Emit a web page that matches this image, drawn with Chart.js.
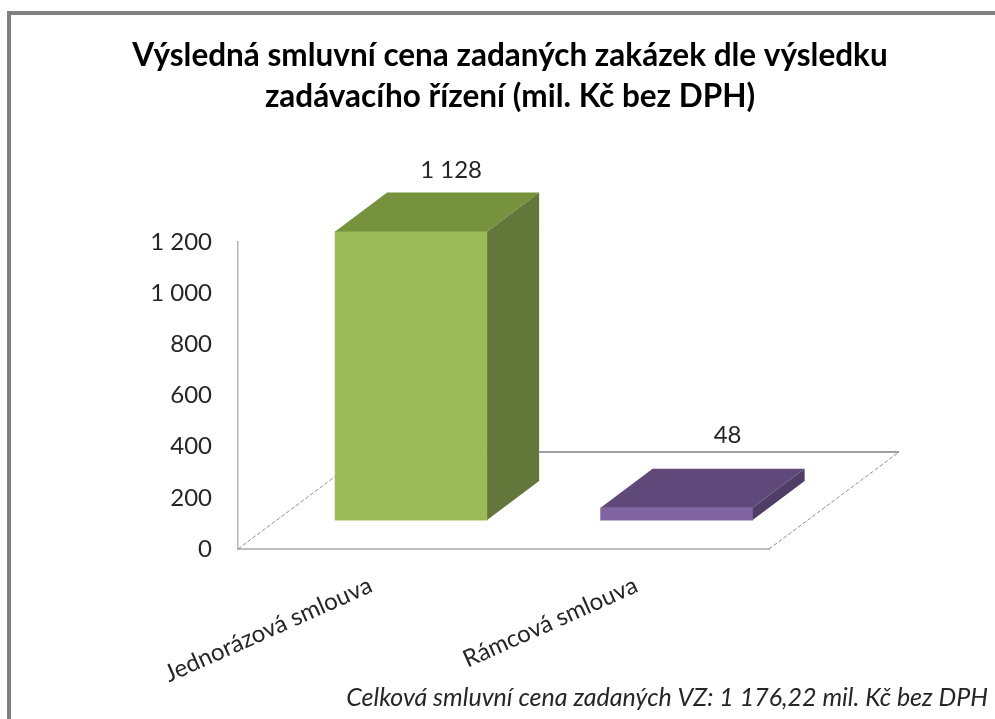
<!DOCTYPE html>
<html>
<head>
<meta charset="utf-8">
<title>Výsledná smluvní cena</title>
<script src="https://cdn.jsdelivr.net/npm/chart.js@4"></script>
<style>
html, body { margin: 0; padding: 0; background: #fff; overflow: hidden; }
#stage { position: relative; width: 995px; height: 719px; filter: blur(0.6px); }
#frame { position: absolute; left: 7px; top: 11px; right: -10px; bottom: -10px; border-left: 4px solid #808080; border-top: 4px solid #808080; }
#grafico { position: absolute; left: 0; top: 0; }
</style>
</head>
<body>
<div id="stage">
  <div id="frame"></div>
  <canvas id="grafico" width="995" height="719"></canvas>
</div>
<script>
//dados
var categories = ['Jednorázová smlouva', 'Rámcová smlouva'];
var seriesValues = [1128, 48];
var valueLabels = ['1 128', '48'];
var yTickLabels = ['0', '200', '400', '600', '800', '1 000', '1 200'];

var titleLines = ['Výsledná smluvní cena zadaných zakázek dle výsledku', 'zadávacího řízení (mil. Kč bez DPH)'];
var footnote = 'Celková smluvní cena zadaných VZ: 1 176,22 mil. Kč bez DPH';

var frontColors = ['#9BBB59', '#8064A2'];
var topColors = ['#76923C', '#5F497A'];
var sideColors = ['#64773A', '#4F3D68'];

var fontName = 'Lato, "Open Sans", sans-serif';

//profundidade do efeito 3D
var barDepth = { x: 52, y: 39 };
var floorDepth = { x: 130, y: 97 };
var labelLift = [61, 73];
var labelShift = [40, 51];

var faces3d = {
    id: 'faces3d',
    beforeDatasetsDraw: function (chart) {
        var ctx = chart.ctx;
        var x = chart.scales.x;
        var y = chart.scales.y;
        var backY = y.bottom - floorDepth.y;

        ctx.save();
        ctx.strokeStyle = '#a0a0a0';
        ctx.lineWidth = 2;
        ctx.beginPath();
        ctx.moveTo(x.left + floorDepth.x, backY);
        ctx.lineTo(x.right + floorDepth.x, backY);
        ctx.stroke();

        ctx.strokeStyle = '#909090';
        ctx.lineWidth = 1;
        ctx.setLineDash([4, 2]);
        ctx.beginPath();
        ctx.moveTo(x.left, y.bottom);
        ctx.lineTo(x.left + floorDepth.x, backY);
        ctx.moveTo(x.right, y.bottom);
        ctx.lineTo(x.right + floorDepth.x, backY);
        ctx.stroke();
        ctx.restore();
    },
    afterDatasetsDraw: function (chart) {
        var ctx = chart.ctx;
        chart.getDatasetMeta(0).data.forEach(function (bar, i) {
            var left = bar.x - bar.width / 2;
            var right = bar.x + bar.width / 2;
            var top = bar.y;
            var base = bar.base;

            ctx.save();
            ctx.fillStyle = topColors[i];
            ctx.beginPath();
            ctx.moveTo(left, top);
            ctx.lineTo(left + barDepth.x, top - barDepth.y);
            ctx.lineTo(right + barDepth.x, top - barDepth.y);
            ctx.lineTo(right, top);
            ctx.closePath();
            ctx.fill();

            ctx.fillStyle = sideColors[i];
            ctx.beginPath();
            ctx.moveTo(right, top);
            ctx.lineTo(right + barDepth.x, top - barDepth.y);
            ctx.lineTo(right + barDepth.x, base - barDepth.y);
            ctx.lineTo(right, base);
            ctx.closePath();
            ctx.fill();

            //rotulo do valor
            ctx.fillStyle = '#262626';
            ctx.font = '24px ' + fontName;
            ctx.textAlign = 'center';
            ctx.textBaseline = 'middle';
            ctx.fillText(valueLabels[i], bar.x + labelShift[i], top - labelLift[i]);
            ctx.restore();
        });
    }
};

var ctx = document.querySelector('#grafico').getContext('2d');
var barChart = new Chart(ctx, {
    type: 'bar',
    data: {
        labels: categories,
        datasets: [{
            label: 'Cena',
            data: seriesValues.map(function (v, i) { return { x: i, y: v }; }),
            backgroundColor: frontColors,
            borderWidth: 0,
            barThickness: 152,
            xAxisID: 'barX',
            yAxisID: 'barY',
            clip: false
        }]
    },
    options: {
        responsive: false,
        animation: false,
        layout: { padding: { left: 32, right: 7, top: 0, bottom: 0 } },
        plugins: {
            legend: { display: false },
            tooltip: { enabled: false },
            title: {
                display: true,
                text: titleLines,
                color: '#000',
                font: { family: fontName, size: 31.5, weight: 'bold', lineHeight: 1.3 },
                padding: { top: 35, bottom: 125 }
            },
            subtitle: {
                display: true,
                text: footnote,
                position: 'bottom',
                align: 'end',
                color: '#262626',
                font: { family: fontName, size: 25, style: 'italic', lineHeight: 1.2 },
                padding: { top: 0, bottom: 6 }
            }
        },
        scales: {
            x: {
                type: 'category',
                grid: { display: false },
                border: { color: '#bdbdbd', width: 2 },
                ticks: {
                    color: '#262626',
                    font: { family: fontName, size: 24 },
                    minRotation: 24,
                    maxRotation: 24,
                    autoSkip: false,
                    padding: 14
                },
                afterFit: function (scale) { scale.height = 134; }
            },
            y: {
                min: 0,
                max: 1200,
                grid: { display: false },
                border: { color: '#b5b5b5', width: 1.5 },
                ticks: {
                    stepSize: 200,
                    color: '#262626',
                    font: { family: fontName, size: 24 },
                    padding: 18,
                    callback: function (value, index) { return yTickLabels[index]; }
                },
                afterFit: function (scale) { scale.width = 206; }
            },
            //eixos ocultos, deslocados pela perspectiva
            barX: {
                type: 'linear',
                display: false,
                offset: false,
                min: -0.652,
                max: 1.348
            },
            barY: {
                position: 'right',
                min: -113,
                max: 1087,
                grid: { display: false },
                border: { display: false },
                ticks: { display: false },
                afterFit: function (scale) { scale.width = 219; }
            }
        }
    },
    plugins: [faces3d]
});
</script>
</body>
</html>
